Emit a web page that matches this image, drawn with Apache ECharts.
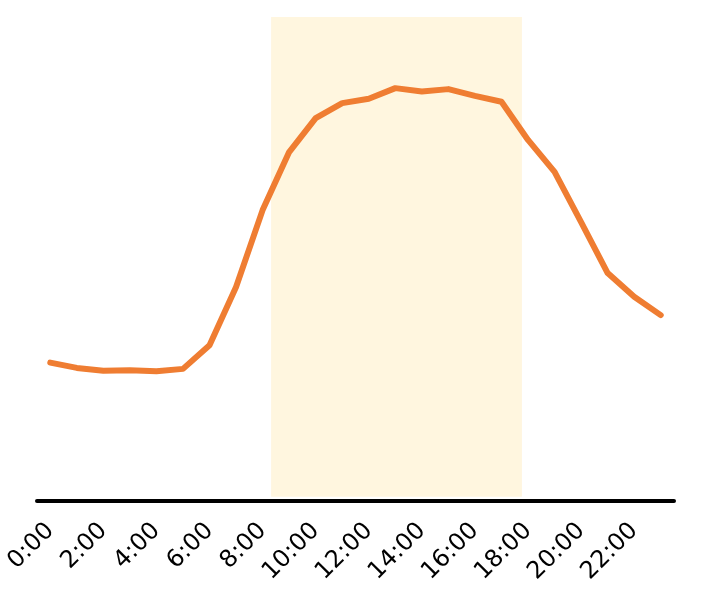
<!DOCTYPE html>
<html>
<head>
<meta charset="utf-8">
<script src="https://cdn.jsdelivr.net/npm/echarts@6/dist/echarts.min.js"></script>
<style>html,body{margin:0;padding:0;background:#fff;}#c{width:709px;height:591px;}</style>
</head>
<body>
<div id="c"></div>
<script>
var hours = ['0:00','1:00','2:00','3:00','4:00','5:00','6:00','7:00','8:00','9:00','10:00','11:00','12:00','13:00','14:00','15:00','16:00','17:00','18:00','19:00','20:00','21:00','22:00','23:00'];
var values = [28.6,27.5,26.9,27.0,26.8,27.3,32.2,44.2,60.1,72.1,79.1,82.2,83.1,85.3,84.6,85.1,83.7,82.5,74.6,68.0,57.6,47.1,42.2,38.4];
var shadeStart = 8.32;
var shadeEnd = 17.77;

var chart = echarts.init(document.getElementById('c'), null, {renderer:'canvas'});
chart.setOption({
  animation: false,
  grid: {left: 37, right: 35, top: 17, bottom: 90},
  xAxis: [
    {
      type: 'category',
      data: hours,
      boundaryGap: true,
      axisLine: {lineStyle: {color: '#000', width: 4}},
      axisTick: {show: false},
      axisLabel: {
        interval: 1,
        rotate: 45,
        color: '#000',
        fontFamily: 'DejaVu Sans',
        fontSize: 24,
        margin: 26
      },
      splitLine: {show: false},
      z: 5
    },
    {
      type: 'value',
      min: -0.5,
      max: 23.5,
      show: false
    }
  ],
  yAxis: {
    type: 'value',
    min: 0,
    max: 100,
    show: false,
    splitLine: {show: false}
  },
  series: [
    {
      type: 'line',
      xAxisIndex: 1,
      data: [],
      silent: true,
      markArea: {
        silent: true,
        itemStyle: {color: '#FFF6DF'},
        data: [[{xAxis: shadeStart, yAxis: 0.9}, {xAxis: shadeEnd, yAxis: 100}]]
      }
    },
    {
      type: 'line',
      xAxisIndex: 0,
      data: values,
      symbol: 'none',
      lineStyle: {color: '#EF7D32', width: 6, cap: 'round', join: 'round'},
      z: 3
    }
  ]
});
</script>
</body>
</html>
